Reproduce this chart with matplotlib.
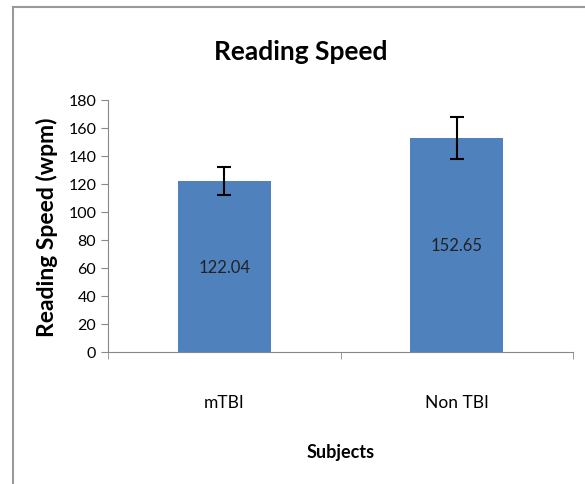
import numpy as np
import matplotlib.pyplot as plt
from matplotlib.lines import Line2D

# data
groups = ['mTBI', 'Non TBI']
speed = [122.04, 152.65]
speed_err = [10.0, 15.0]
speed_labels = ['122.04', '152.65']

plt.rcParams['font.family'] = ['Lato', 'DejaVu Sans']

fig = plt.figure(figsize=(5.85, 4.85), dpi=100)
ax = fig.add_axes([108 / 585, 1 - 353 / 485, (573 - 108) / 585, (353 - 101) / 485])

x = np.arange(len(groups))
ax.bar(x, speed, width=0.4, color='#4F81BD', zorder=2)
ax.errorbar(x, speed, yerr=speed_err, fmt='none', ecolor='black',
            elinewidth=1.5, capsize=5, capthick=1.5, zorder=3)

# value labels centred inside each bar
for xi, val, lab in zip(x, speed, speed_labels):
    ax.text(xi, val / 2, lab, ha='center', va='center',
            fontsize=12, color='#222222')

ax.set_xlim(-0.5, len(groups) - 0.5)
ax.set_ylim(0, 180)
ax.set_yticks(np.arange(0, 181, 20))
ax.set_xticks(x)
ax.set_xticklabels(groups, fontsize=12.5)
ax.set_xticks([-0.5, 0.5, 1.5], minor=True)
ax.tick_params(axis='x', which='major', length=0, pad=30)
ax.tick_params(axis='x', which='minor', length=5, color='#888888')
ax.tick_params(axis='y', length=5, color='#888888', labelsize=11.5)

for side in ['top', 'right']:
    ax.spines[side].set_visible(False)
for side in ['left', 'bottom']:
    ax.spines[side].set_color('#888888')

ax.set_ylabel('Reading Speed (wpm)', fontsize=16.5, fontweight='bold', labelpad=7)
ax.set_xlabel('Subjects', fontsize=13, fontweight='bold', labelpad=24)

fig.text(301 / 585, 1 - 52 / 485, 'Reading Speed', ha='center', va='center',
         fontsize=19, fontweight='bold')

# outer chart frame (left and top edges visible)
fig.add_artist(Line2D([13 / 585, 13 / 585], [0, 1 - 8 / 485], color='#999999', lw=1.5))
fig.add_artist(Line2D([13 / 585, 1], [1 - 8 / 485, 1 - 8 / 485], color='#999999', lw=1.5))

fig.savefig('out.png', dpi=100)
